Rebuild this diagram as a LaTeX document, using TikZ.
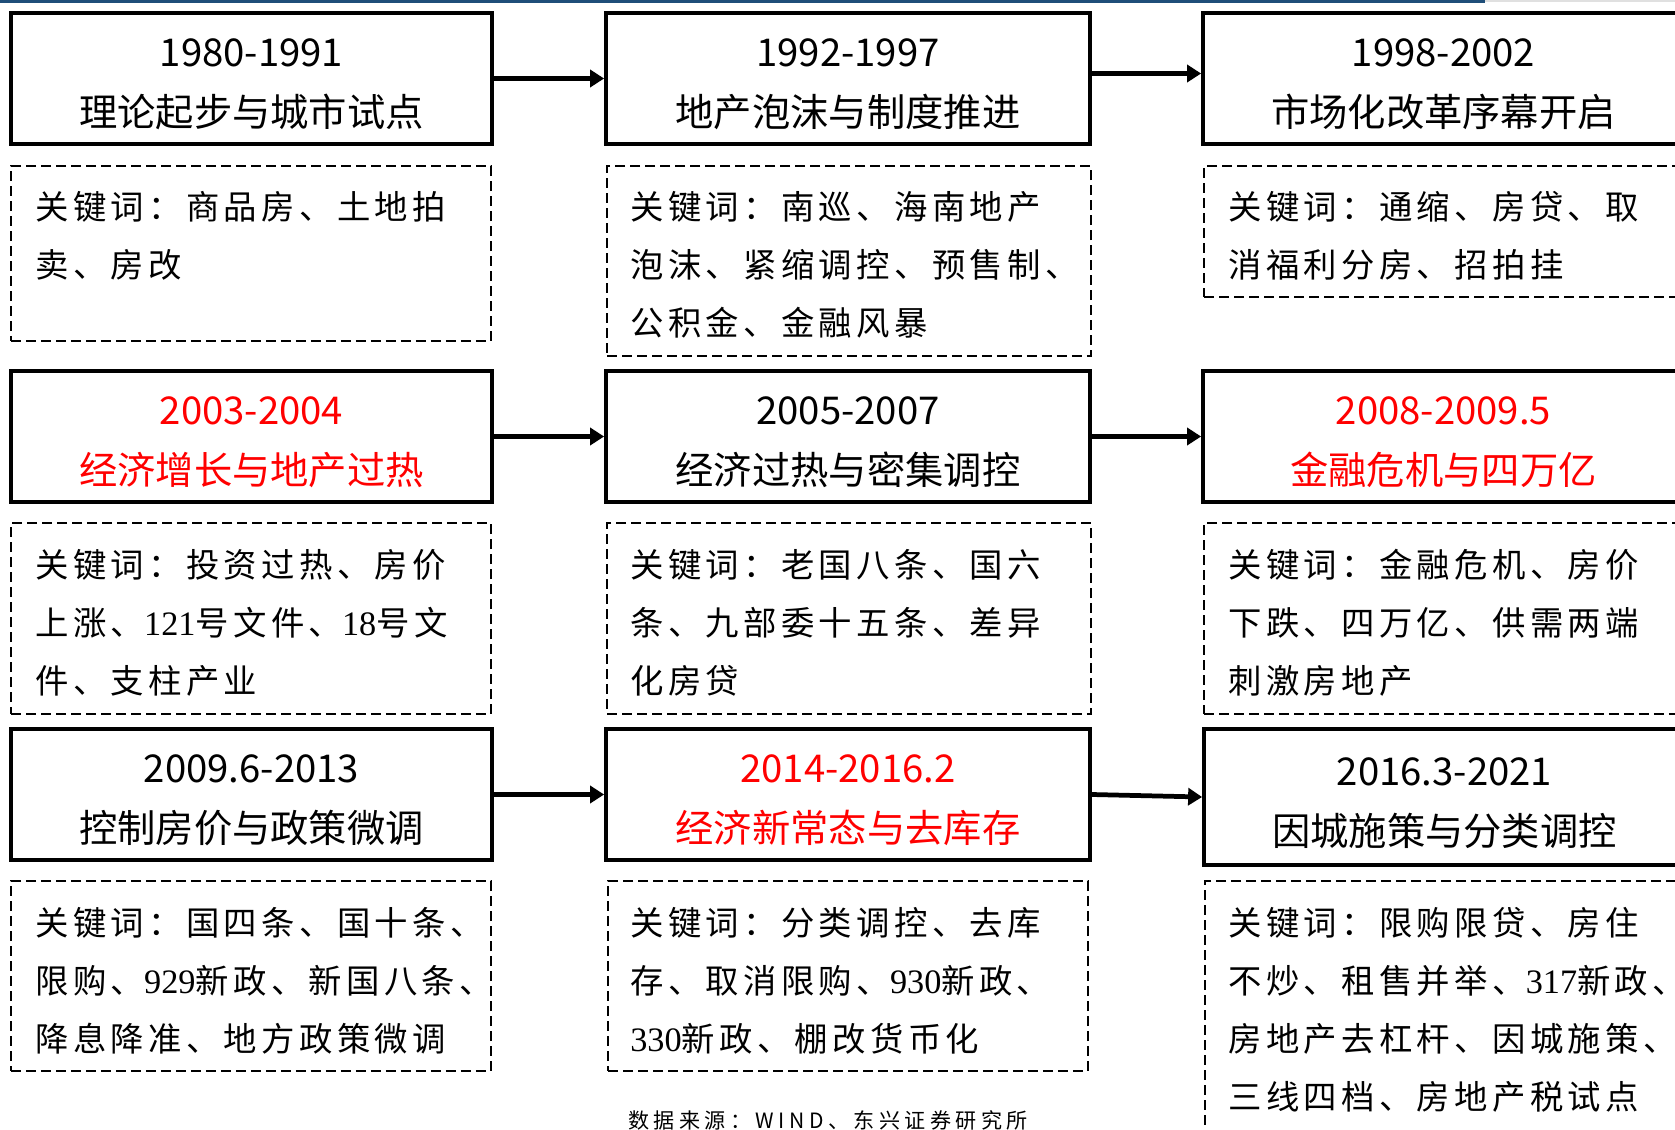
\documentclass[tikz,border=0pt]{standalone}
\usepackage{fontspec}
\setmainfont{Noto Sans CJK SC}
\newfontfamily\kwfont[LetterSpace=13]{Noto Sans CJK SC}
\newfontfamily\numfont{Liberation Serif}
\newfontfamily\srcfont[LetterSpace=21]{Noto Sans CJK SC}
\newcommand\kwnum[1]{{\numfont\fontsize{19.5pt}{33pt}\selectfont #1}}
\usetikzlibrary{arrows.meta}
\definecolor{topblue}{RGB}{31,78,121}
\definecolor{titlered}{RGB}{255,0,0}
\tikzset{
 titlebox/.style={draw=black, line width=2.2pt, minimum width=9.62cm, minimum height=2.62cm, inner sep=0pt},
 ttl/.style={align=center, inner sep=0pt, yshift=-0.12cm, font=\fontsize{21.8pt}{34pt}\selectfont},
 kwbox/.style={draw=black, line width=0.9pt, dash pattern=on 0.2cm off 0.1cm, minimum width=9.6cm, inner sep=0pt},
 kwtext/.style={anchor=west, align=left, inner sep=0pt, font=\kwfont\fontsize{19pt}{33pt}\selectfont},
 arr/.style={line width=2.7pt, -{Triangle[length=0.28cm,width=0.34cm]}},
 redtext/.style={text=titlered},
}
\begin{document}
\begin{tikzpicture}[x=0.02cm,y=-0.02cm]
\useasboundingbox (0,0) rectangle (1675,1129);
\clip (0,0) rectangle (1675,1129);
\fill[topblue] (0,0) rectangle (1485,3);
\fill[black!12] (1485,0) rectangle (1675,2);

% Row 1
\node[titlebox, label={[ttl]center:{1980-1991\\理论起步与城市试点}}] (T11) at (251.5,78.5) {};
\node[titlebox, minimum width=9.68cm, label={[ttl]center:{1992-1997\\地产泡沫与制度推进}}] (T12) at (848,78.5) {};
\node[titlebox, label={[ttl]center:{1998-2002\\市场化改革序幕开启}}] (T13) at (1443.5,78.5) {};
\node[kwbox, minimum height=3.5cm] (K11) at (251,253.5) {};
\node[kwbox, minimum width=9.68cm, minimum height=3.8cm] (K12) at (849,261) {};
\node[kwbox, minimum width=9.62cm, minimum height=2.62cm] (K13) at (1444.5,231.5) {};
\node[kwtext] (W11) at (35,235.5) {关键词：商品房、土地拍\\卖、房改};
\node[kwtext] (W12) at (630,265) {关键词：南巡、海南地产\\泡沫、紧缩调控、预售制、\\公积金、金融风暴};
\node[kwtext] (W13) at (1228,235.5) {关键词：通缩、房贷、取\\消福利分房、招拍挂};

% Row 2
\node[titlebox, label={[ttl,redtext]center:{2003-2004\\经济增长与地产过热}}] (T21) at (251.5,436.5) {};
\node[titlebox, minimum width=9.68cm, label={[ttl]center:{2005-2007\\经济过热与密集调控}}] (T22) at (848,436.5) {};
\node[titlebox, label={[ttl,redtext]center:{2008-2009.5\\金融危机与四万亿}}] (T23) at (1443.5,436.5) {};
\node[kwbox, minimum height=3.82cm] (K21) at (251,618.5) {};
\node[kwbox, minimum width=9.68cm, minimum height=3.82cm] (K22) at (849,618.5) {};
\node[kwbox, minimum width=9.62cm, minimum height=3.82cm] (K23) at (1444.5,618.5) {};
\node[kwtext] (W21) at (35,622.5) {关键词：投资过热、房价\\上涨、\kwnum{121}号文件、\kwnum{18}号文\\件、支柱产业};
\node[kwtext] (W22) at (630,622.5) {关键词：老国八条、国六\\条、九部委十五条、差异\\化房贷};
\node[kwtext] (W23) at (1228,622.5) {关键词：金融危机、房价\\下跌、四万亿、供需两端\\刺激房地产};

% Row 3
\node[titlebox, label={[ttl]center:{2009.6-2013\\控制房价与政策微调}}] (T31) at (251.5,794.5) {};
\node[titlebox, minimum width=9.68cm, label={[ttl,redtext]center:{2014-2016.2\\经济新常态与去库存}}] (T32) at (848,794.5) {};
\node[titlebox, minimum height=2.72cm, label={[ttl]center:{2016.3-2021\\因城施策与分类调控}}] (T33) at (1444.5,797) {};
\node[kwbox, minimum height=3.8cm] (K31) at (251,976) {};
\node[kwbox, minimum height=3.8cm] (K32) at (848,976) {};
\node[kwbox, minimum width=9.62cm, minimum height=5.18cm] (K33) at (1445.5,1010.5) {};
\node[kwtext] (W31) at (35,980.5) {关键词：国四条、国十条、\\限购、\kwnum{929}新政、新国八条、\\降息降准、地方政策微调};
\node[kwtext] (W32) at (630,980.5) {关键词：分类调控、去库\\存、取消限购、\kwnum{930}新政、\\\kwnum{330}新政、棚改货币化};
\node[kwtext] (W33) at (1228,1010) {关键词：限购限贷、房住\\不炒、租售并举、\kwnum{317}新政、\\房地产去杠杆、因城施策、\\三线四档、房地产税试点};

% Arrows
\draw[arr] (T11.east) -- (T12.west);
\draw[arr] ([yshift=0.1cm]T12.east) -- ([yshift=0.1cm]T13.west);
\draw[arr] (T21.east) -- (T22.west);
\draw[arr] (T22.east) -- (T23.west);
\draw[arr] (T31.east) -- (T32.west);
\draw[arr] (T32.east) -- (T33.west);

\node[font=\srcfont\fontsize{12pt}{14pt}\selectfont, inner sep=0pt] (src) at (828,1120) {数据来源：WIND、东兴证券研究所};
\end{tikzpicture}
\end{document}
